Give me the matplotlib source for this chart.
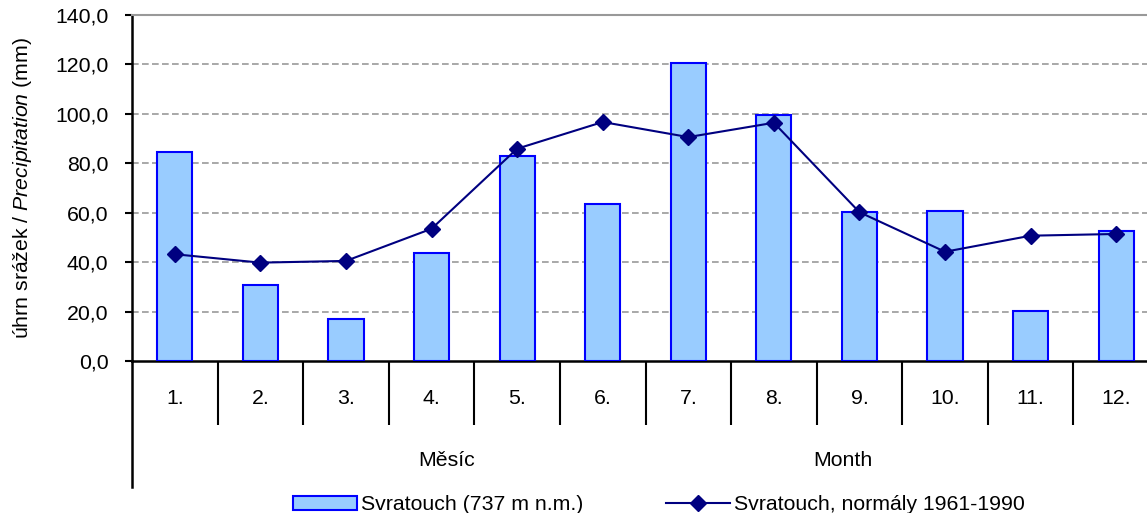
import numpy as np
import matplotlib
matplotlib.use("Agg")
import matplotlib.pyplot as plt
from matplotlib.lines import Line2D

plt.rcParams['font.family'] = ['Liberation Sans', 'DejaVu Sans']
plt.rcParams['mathtext.fontset'] = 'custom'
plt.rcParams['mathtext.rm'] = 'Liberation Sans'
plt.rcParams['mathtext.it'] = 'Liberation Sans:italic'

# monthly data
months = ["1.", "2.", "3.", "4.", "5.", "6.", "7.", "8.", "9.", "10.", "11.", "12."]
precip = [84.7, 30.8, 16.9, 43.6, 83.1, 63.7, 120.4, 99.4, 60.4, 60.5, 20.1, 52.6]
normal = [43.2, 39.8, 40.5, 53.5, 85.9, 96.7, 90.6, 96.4, 60.2, 44.2, 50.7, 51.4]
yticks = [0, 20, 40, 60, 80, 100, 120, 140]

FS = 15.3
W, H = 1147, 513
fig = plt.figure(figsize=(W / 100, H / 100), dpi=100)
left, right, top, bottom = 132, 1159, 15, 361
ax = fig.add_axes([left / W, 1 - bottom / H, (right - left) / W, (bottom - top) / H])

x = np.arange(len(months))
bars = ax.bar(x, precip, width=0.41, color='#99CCFF', edgecolor='#0000FF', linewidth=1.5,
              label='Svratouch (737 m n.m.)', zorder=3)
line, = ax.plot(x, normal, color='#000080', linewidth=1.5, marker='D', markersize=8,
                label='Svratouch, normály 1961-1990', zorder=4)

ax.set_xlim(-0.5, len(months) - 0.5)
ax.set_ylim(0, 140)

# y axis
ax.set_yticks(yticks)
ax.set_yticklabels([f"{v:.1f}".replace('.', ',') for v in yticks], fontsize=FS)
ax.tick_params(axis='y', direction='out', length=5, width=1.5, pad=12)
for v in yticks[1:-1]:
    ax.axhline(v, color='#999999', linewidth=1.2, linestyle=(0, (4, 2)), zorder=1)

# x axis: categories with separators
ax.set_xticks(x)
ax.set_xticklabels(months, fontsize=FS)
ax.tick_params(axis='x', which='major', length=0, pad=20)
ax.set_xticks(x[:-1] + 0.5, minor=True)
ax.tick_params(axis='x', which='minor', direction='out', length=46, width=1.5)

ax.spines['right'].set_visible(False)
ax.spines['top'].set_color('#999999')
ax.spines['top'].set_linewidth(1.5)
ax.spines['left'].set_linewidth(1.8)
ax.spines['bottom'].set_linewidth(1.8)

# extension of left axis line below the category labels
ext = (487 - bottom) / (bottom - top)
ax.add_line(Line2D([0, 0], [0, -ext], transform=ax.transAxes, color='black',
                   linewidth=1.8, clip_on=False))

ax.set_ylabel(r"úhrn srážek / $\mathit{Precipitation}$ (mm)", fontsize=FS, labelpad=15)

fig.text(447 / W, 1 - 461 / H, "Měsíc", fontsize=FS, ha='center', va='center')
fig.text(843 / W, 1 - 461 / H, "Month", fontsize=FS, ha='center', va='center')

fig.legend(handles=[bars, line], loc='center', bbox_to_anchor=(659 / W, 1 - 505 / H),
           ncol=2, frameon=False, fontsize=FS, handlelength=3.0, handletextpad=0.2,
           columnspacing=3.9, handleheight=0.6)

fig.savefig("out.png", dpi=100)
